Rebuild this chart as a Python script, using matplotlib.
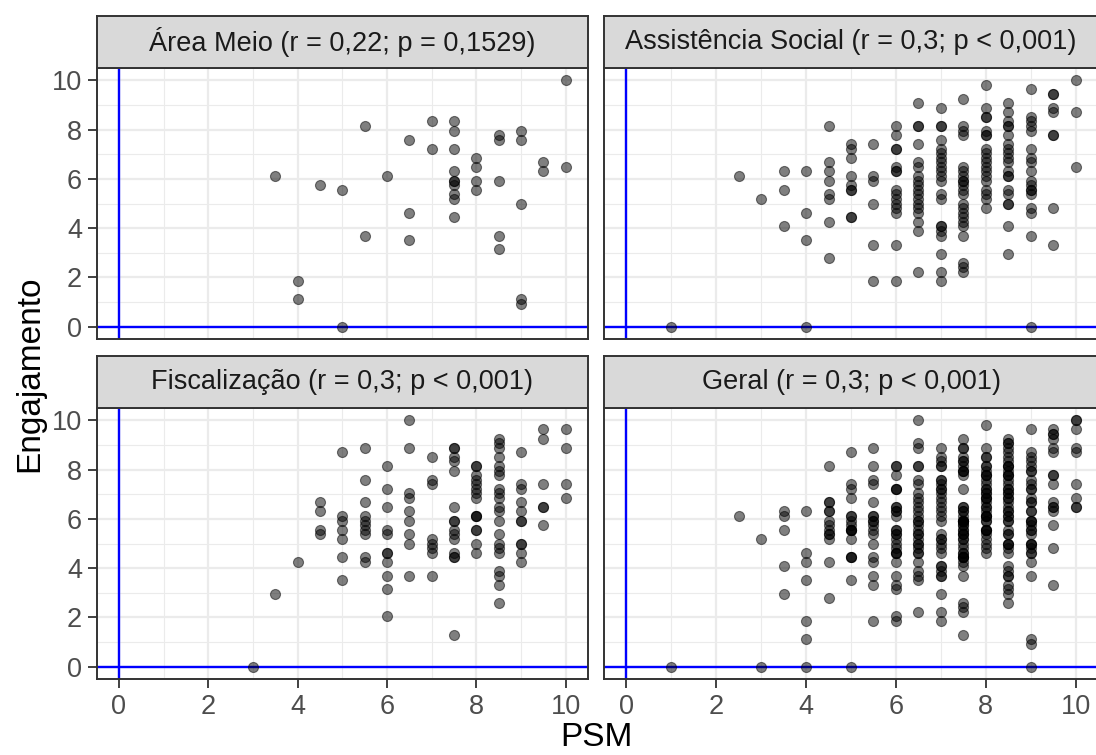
import numpy as np
import matplotlib.pyplot as plt
from matplotlib import rcParams

rcParams['font.family'] = ['Liberation Sans', 'DejaVu Sans']

# PSM values (one per column of points) and the engagement values found at each
am_psm = [3.5, 4, 4.5, 5, 5.5, 6, 6.5, 7, 7.5, 8, 8.5, 9, 9.5, 10]
am_eng = [[6.11], [1.85, 1.11], [5.74], [5.56, 0], [8.15, 3.70], [6.11],
          [7.59, 4.63, 3.52], [8.33, 7.22],
          [8.33, 7.96, 7.22, 6.30, 5.93, 5.93, 5.74, 5.37, 5.19, 4.44],
          [6.85, 6.48, 5.93, 5.56], [7.78, 7.59, 5.93, 3.70, 3.15],
          [7.96, 7.59, 5.00, 1.11, 0.93], [6.67, 6.30], [10, 6.48]]

as_psm = [1, 2.5, 3, 3.5, 4, 4.5, 5, 5.5, 6, 6.5, 7, 7.5, 8, 8.5, 9, 9.5, 10]
as_eng = [[0], [6.11], [5.19], [6.30, 5.56, 4.07], [6.30, 4.63, 3.52, 0],
          [8.15, 6.67, 6.30, 5.93, 5.37, 5.19, 4.26, 2.78],
          [7.41, 7.22, 6.85, 6.11, 5.74, 5.56, 5.56, 4.44, 4.44],
          [7.41, 6.11, 5.93, 5.00, 3.33, 1.85],
          [8.15, 7.78, 7.22, 7.22, 6.48, 6.30, 6.30, 5.56, 5.37, 5.19, 5.00, 4.81, 4.63, 3.33, 1.85],
          [9.07, 8.15, 8.15, 7.41, 6.67, 6.48, 6.11, 5.93, 5.74, 5.56, 5.37, 5.19, 5.00, 4.81,
           4.63, 4.26, 3.89, 2.22],
          [8.89, 8.15, 8.15, 7.59, 7.22, 7.04, 6.85, 6.67, 6.48, 6.30, 6.11, 5.93, 5.37, 5.19,
           4.07, 4.07, 3.89, 3.70, 2.96, 2.22, 1.85],
          [9.26, 8.15, 7.96, 7.78, 6.48, 6.30, 6.11, 5.93, 5.93, 5.74, 5.56, 5.37, 5.00, 4.81,
           4.63, 4.44, 4.26, 4.07, 3.70, 2.59, 2.41, 2.22],
          [9.81, 8.89, 8.52, 8.52, 7.96, 7.78, 7.78, 7.22, 7.04, 6.85, 6.67, 6.48, 6.30, 6.11,
           5.93, 5.56, 5.37, 5.19, 4.81],
          [9.07, 8.70, 8.33, 8.15, 8.15, 7.78, 7.41, 7.22, 7.04, 6.85, 6.67, 6.30, 6.11, 6.11,
           5.56, 5.37, 5.00, 5.00, 4.07, 2.96],
          [9.63, 8.52, 8.33, 8.15, 7.96, 7.22, 6.85, 6.67, 6.30, 5.93, 5.74, 5.56, 5.56, 5.37,
           4.81, 4.63, 3.70, 0],
          [9.44, 9.44, 8.89, 8.70, 7.78, 7.78, 4.81, 3.33],
          [10, 8.70, 6.48]]

fi_psm = [3, 3.5, 4, 4.5, 5, 5.5, 6, 6.5, 7, 7.5, 8, 8.5, 9, 9.5, 10]
fi_eng = [[0], [2.96], [4.26], [6.67, 6.30, 5.56, 5.37],
          [8.70, 6.11, 5.93, 5.56, 5.19, 4.44, 3.52],
          [8.89, 7.59, 6.67, 6.11, 5.93, 5.74, 5.56, 5.37, 4.44, 4.26],
          [8.15, 7.22, 6.48, 5.56, 5.37, 4.63, 4.63, 4.26, 3.70, 3.15, 2.04],
          [10, 8.89, 7.04, 6.85, 6.30, 5.93, 5.37, 5.00, 3.70],
          [8.52, 7.59, 7.41, 5.19, 5.00, 4.81, 4.63, 3.70],
          [8.89, 8.89, 8.52, 8.33, 7.96, 6.48, 5.93, 5.93, 5.56, 5.37, 5.19, 4.63, 4.44, 4.44, 1.30],
          [8.15, 8.15, 7.78, 7.59, 7.41, 7.22, 7.04, 6.85, 6.11, 6.11, 6.11, 5.56, 5.56, 5.00, 4.63],
          [9.26, 9.07, 8.89, 8.52, 8.15, 7.96, 7.78, 7.22, 7.04, 6.85, 6.48, 6.30, 5.93, 5.37,
           5.00, 4.81, 4.63, 3.89, 3.70, 3.33, 2.59],
          [8.70, 7.41, 7.22, 6.67, 6.30, 5.93, 5.93, 5.00, 5.00, 4.63, 4.26],
          [9.63, 9.26, 7.41, 6.48, 6.48, 5.74],
          [9.63, 8.89, 7.41, 6.85]]

titles = ["Área Meio (r = 0,22; p = 0,1529)",
          "Assistência Social (r = 0,3; p < 0,001)",
          "Fiscalização (r = 0,3; p < 0,001)",
          "Geral (r = 0,3; p < 0,001)"]


def flatten(psm, eng):
    xs, ys = [], []
    for x, col in zip(psm, eng):
        xs += [x] * len(col)
        ys += col
    return np.array(xs, dtype=float), np.array(ys, dtype=float)


am = flatten(am_psm, am_eng)
ass = flatten(as_psm, as_eng)
fi = flatten(fi_psm, fi_eng)
# "Geral" pools the three groups
ge = (np.concatenate([am[0], ass[0], fi[0]]), np.concatenate([am[1], ass[1], fi[1]]))
groups = [am, ass, fi, ge]

W, H = 1096, 755
fig = plt.figure(figsize=(W / 100, H / 100), dpi=100)

lefts = [96.5, 604]
widths = [491.5, 494]
tops = [68, 408]
ph, sh = 271, 52

for i, (title, (x, y)) in enumerate(zip(titles, groups)):
    r, c = divmod(i, 2)
    pw = widths[c]
    ax = fig.add_axes([lefts[c] / W, 1 - (tops[r] + ph) / H, pw / W, ph / H])
    # same 0-10 span on both axes, with the ggplot-style 5% padding
    ax.set_xlim(-0.5 * 11 / 11, 10.5)
    ax.set_ylim(-0.5, 10.5)
    ax.set_xticks(np.arange(0, 11, 2))
    ax.set_yticks(np.arange(0, 11, 2))
    ax.set_xticks(np.arange(1, 10, 2), minor=True)
    ax.set_yticks(np.arange(1, 10, 2), minor=True)
    ax.set_axisbelow(True)
    ax.grid(which='major', color='#EBEBEB', lw=1.6)
    ax.grid(which='minor', color='#EBEBEB', lw=0.8)
    ax.axvline(0, color='blue', lw=1.7, zorder=2)
    ax.axhline(0, color='blue', lw=1.7, zorder=2)
    ax.scatter(x, y, s=52, facecolor=(0, 0, 0, 0.5), edgecolor=(0, 0, 0, 0.5),
               linewidths=0.8, zorder=3)
    for sp in ax.spines.values():
        sp.set_color('#333333')
        sp.set_linewidth(1.4)
    ax.tick_params(which='minor', length=0)
    ax.tick_params(which='major', length=6.5, width=1.3, color='#333333',
                   labelsize=19.5, labelcolor='#4D4D4D', pad=4)
    if c == 1:
        ax.tick_params(left=False, labelleft=False)
    if r == 0:
        ax.tick_params(bottom=False, labelbottom=False)

    sax = fig.add_axes([lefts[c] / W, 1 - tops[r] / H, pw / W, sh / H])
    sax.set_facecolor('#D9D9D9')
    sax.set_xticks([])
    sax.set_yticks([])
    for sp in sax.spines.values():
        sp.set_color('#333333')
        sp.set_linewidth(1.4)
    sax.text(0.5, 0.5, title, ha='center', va='center', fontsize=19.5,
             color='#1A1A1A', transform=sax.transAxes)

fig.text(30 / W, 1 - 373.5 / H, 'Engajamento', rotation=90, ha='center',
         va='center', fontsize=24)
fig.text(596 / W, 1 - 737 / H, 'PSM', ha='center', va='center', fontsize=24)

fig.savefig('out.png', dpi=100)
